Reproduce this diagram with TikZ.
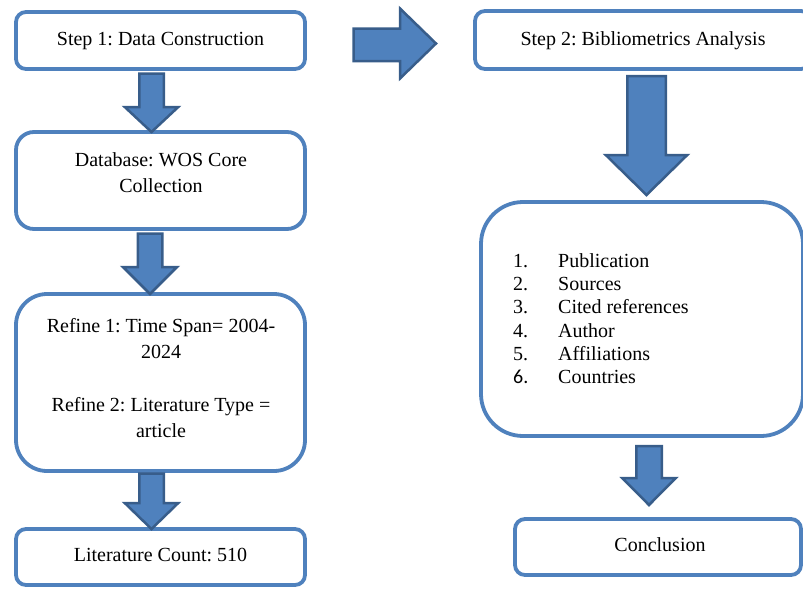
\documentclass[tikz,border=0pt]{standalone}
\usepackage{fontspec}
\setmainfont{Liberation Serif}
\newfontfamily\calibfont{Carlito}
\frenchspacing
\definecolor{boxblue}{HTML}{4F81BD}
\definecolor{arrfill}{HTML}{4F81BD}
\definecolor{arrdark}{HTML}{385D8A}
\newcommand\dnblockarrow[6]{% cx, top, shaft half, head half, head start, tip
  \draw[blockarr] (#1-#3,#2) -- (#1+#3,#2) -- (#1+#3,#5) -- (#1+#4,#5) -- (#1,#6)
    -- (#1-#4,#5) -- (#1-#3,#5) -- cycle;}
\begin{document}
\begin{tikzpicture}[x=1pt,y=-1pt,
  box/.style={draw=boxblue, line width=3.8pt, fill=white, inner sep=0pt},
  txt/.style={font=\fontsize{20pt}{26pt}\selectfont\frenchspacing, inner sep=0pt, anchor=base},
  blockarr/.style={fill=arrfill, draw=arrdark, line width=2.5pt, line join=miter}]
\useasboundingbox (0,0) rectangle (803,590);
\clip (0,0) rectangle (803,590);
% left column boxes
\node[box, minimum width=289pt, minimum height=57pt, rounded corners=10pt] (b1) at (160.5,40.5) {};
\node[box, minimum width=289pt, minimum height=97pt, rounded corners=18pt] (b2) at (160.5,180.5) {};
\node[box, minimum width=289pt, minimum height=177pt, rounded corners=31pt] (b3) at (160.5,382.5) {};
\node[box, minimum width=289pt, minimum height=56pt, rounded corners=10pt] (b4) at (160.5,557) {};
% right column boxes
\node[box, minimum width=336pt, minimum height=58pt, rounded corners=10pt] (b5) at (643,40) {};
\node[box, minimum width=322pt, minimum height=234pt, rounded corners=42pt] (b6) at (642,319) {};
\node[box, minimum width=286pt, minimum height=56pt, rounded corners=10pt] (b7) at (658,547) {};
% texts
\node[txt] (t1) at (160.5,45.5) {Step 1: Data Construction};
\node[txt] (t2a) at (161,166.5) {Database: WOS Core};
\node[txt] (t2b) at (161,192.5) {Collection};
\node[txt] (t3a) at (161,332.5) {Refine 1: Time Span= 2004-};
\node[txt] (t3b) at (161,358.5) {2024};
\node[txt] (t3c) at (161,411) {Refine 2: Literature Type =};
\node[txt] (t3d) at (161,437) {article};
\node[txt] (t4) at (160.5,561.5) {Literature Count: 510};
\node[txt] (t5) at (643,45) {Step 2: Bibliometrics Analysis};
\node[txt] (t7) at (660,551.5) {Conclusion};
\foreach \n/\y/\item in {1/267.7/Publication, 2/290.8/Sources, 3/313.9/Cited references,
                         4/337/Author, 5/360.1/Affiliations}{
  \node[txt, anchor=base west] (n\n) at (513,\y) {\n.};
  \node[txt, anchor=base west] (i\n) at (558,\y) {\item};
}
\node[txt, anchor=base west] (n6) at (513,383.2) {\calibfont 6.};
\node[txt, anchor=base west] (i6) at (558,383.2) {Countries};
% block arrows
\dnblockarrow{151.5}{73.5}{12.25}{26.75}{107}{132}
\dnblockarrow{150}{233.5}{12.25}{27}{267}{294}
\dnblockarrow{151.5}{473.5}{12.25}{26.75}{503}{529}
\dnblockarrow{646.5}{76}{19.25}{40.75}{155}{195}
\dnblockarrow{649}{446}{12.75}{26.75}{478}{505}
\draw[blockarr] (353.5,28.5) -- (400,28.5) -- (400,8.5) -- (436,43.5) -- (400,78.5)
  -- (400,61) -- (353.5,61) -- cycle;
\end{tikzpicture}
\end{document}
